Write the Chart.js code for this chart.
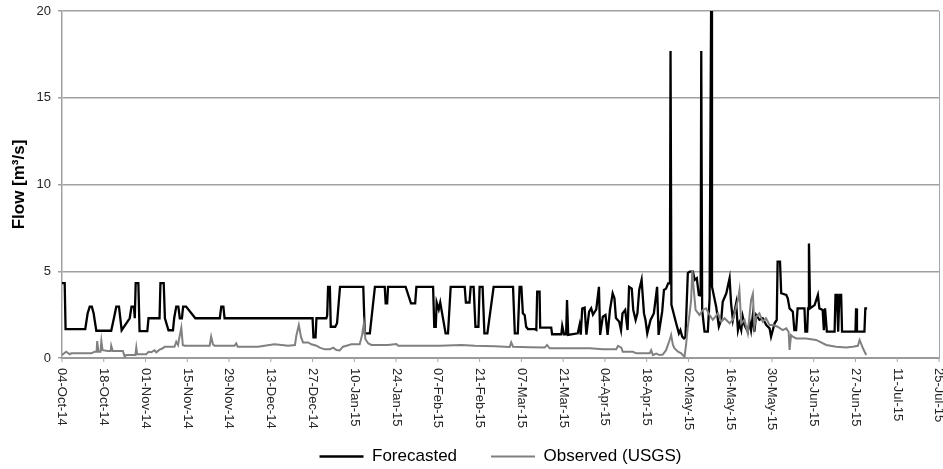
<!DOCTYPE html>
<html lang="en">
<head>
<meta charset="utf-8">
<title>Forecasted vs observed flow</title>
<script src="https://cdn.jsdelivr.net/npm/chart.js"></script>
<style>
  html, body { margin: 0; padding: 0; background: #fff; }
</style>
</head>
<body>
<canvas id="chart" width="943" height="469"></canvas>

<script>
  // x values are days after 04-Oct-14, y values are flow in m3/s
  const tickLabels = ['04-Oct-14', '18-Oct-14', '01-Nov-14', '15-Nov-14', '29-Nov-14', '13-Dec-14',
    '27-Dec-14', '10-Jan-15', '24-Jan-15', '07-Feb-15', '21-Feb-15', '07-Mar-15', '21-Mar-15',
    '04-Apr-15', '18-Apr-15', '02-May-15', '16-May-15', '30-May-15', '13-Jun-15', '27-Jun-15',
    '11-Jul-15', '25-Jul-15'];

  const forecasted = [
    [0, 4.32], [0.9, 4.32], [1.2, 1.67], [7.8, 1.67], [8.6, 2.58], [9.3, 2.96], [10.0, 2.96], [10.6, 2.58],
    [11.5, 1.57], [16.5, 1.57], [17.4, 2.29], [18.2, 2.96], [19.1, 2.96], [20.0, 1.6], [22.7, 2.29],
    [23.3, 2.96], [24.1, 2.96], [24.4, 2.29], [24.7, 4.32], [25.6, 4.32], [26.0, 1.55], [28.6, 1.55],
    [29.0, 2.29], [32.7, 2.29], [33.0, 4.32], [34.1, 4.32], [34.5, 2.29], [35.7, 1.6], [37.2, 1.6],
    [37.6, 2.29], [38.3, 2.96], [39.0, 2.96], [39.5, 2.29], [40.2, 2.29], [40.6, 2.96], [41.6, 2.96],
    [44.7, 2.29], [52.9, 2.29], [53.4, 2.96], [54.1, 2.96], [54.5, 2.29], [84.0, 2.29], [84.3, 1.19],
    [85.0, 1.19], [85.3, 2.29], [88.6, 2.29], [88.9, 2.45], [89.2, 4.1], [89.8, 4.1], [90.1, 1.8],
    [91.6, 1.8], [92.2, 2.0], [93.2, 4.1], [101.0, 4.1], [101.5, 1.42], [103.2, 1.42], [104.9, 4.1],
    [108.2, 4.1], [108.5, 3.15], [109.0, 3.15], [109.3, 4.1], [115.2, 4.1], [117.0, 3.15], [118.4, 3.15],
    [118.8, 4.1], [124.4, 4.1], [124.8, 1.8], [125.3, 1.8], [125.6, 3.2], [126.3, 2.8], [126.8, 3.2],
    [127.4, 2.6], [128.6, 1.42], [129.4, 1.42], [130.3, 4.1], [135.0, 4.1], [135.4, 3.2], [136.6, 3.2],
    [137.0, 4.1], [138.0, 4.1], [138.6, 1.8], [139.6, 1.8], [140.0, 4.1], [141.0, 4.1], [141.6, 1.42],
    [142.6, 1.42], [144.7, 4.1], [151.2, 4.1], [151.8, 1.42], [152.8, 1.42], [153.4, 4.1], [154.0, 4.1],
    [154.5, 2.57], [155.1, 2.48], [155.6, 1.8], [156.2, 1.67], [158.4, 1.67], [159.0, 1.62], [159.3, 3.82],
    [160.1, 3.82], [160.3, 1.75], [164.0, 1.75], [164.3, 1.37], [167.4, 1.37], [167.7, 1.85], [168.3, 1.37],
    [169.0, 1.37], [169.3, 3.34], [169.7, 1.33], [172.9, 1.42], [173.5, 1.9], [173.9, 1.35], [174.4, 2.85],
    [175.2, 2.9], [175.8, 1.35], [176.7, 2.67], [177.4, 2.86], [178.0, 2.5], [179.1, 2.8], [180.0, 4.1],
    [180.4, 1.33], [181.3, 2.38], [182.2, 2.48], [182.9, 1.33], [183.7, 2.77], [184.6, 3.73], [185.2, 3.44],
    [185.7, 2.3], [186.8, 2.09], [187.4, 1.61], [187.9, 2.57], [188.8, 2.77], [189.6, 1.61], [190.1, 4.1],
    [191.0, 4.0], [191.5, 2.77], [192.3, 2.19], [192.9, 2.57], [193.5, 3.92], [194.3, 4.5], [195.1, 2.57],
    [195.6, 2.19], [196.2, 1.42], [197.3, 2.19], [198.4, 2.57], [199.5, 4.1], [200.0, 1.33], [201.2, 2.67],
    [201.8, 3.92], [202.5, 4.0], [203.2, 4.3], [203.8, 4.3], [204.0, 17.7], [204.3, 3.06], [205.6, 2.19],
    [206.2, 1.8], [206.8, 1.42], [207.3, 1.61], [207.9, 1.23], [208.5, 1.13], [209.0, 1.2], [209.8, 4.9],
    [210.4, 4.98], [211.5, 4.98], [212.1, 4.5], [212.8, 4.6], [213.5, 3.63], [214.1, 3.6], [214.3, 17.7],
    [214.6, 2.77], [215.4, 1.52], [216.5, 1.52], [217.1, 3.44], [217.6, 20], [217.9, 4.11], [219.3, 2.96],
    [220.2, 1.81], [221.0, 2.2], [221.5, 3.24], [222.7, 3.73], [223.8, 4.6], [224.3, 3.15], [224.9, 2.2],
    [226.0, 3.15], [226.6, 1.61], [227.1, 2.0], [227.7, 1.61], [228.2, 2.38], [228.8, 1.9], [229.9, 1.52],
    [230.5, 2.09], [231.0, 1.61], [231.6, 2.48], [232.1, 1.52], [232.7, 2.48], [233.8, 2.2], [234.9, 2.29],
    [236.1, 1.9], [237.2, 1.71], [237.7, 1.23], [238.9, 2.0], [239.6, 2.2], [239.9, 5.55], [240.7, 5.55],
    [241.1, 3.73], [242.8, 3.63], [243.3, 3.44], [243.9, 2.86], [245.0, 2.67], [245.5, 1.61], [246.1, 1.61],
    [246.6, 2.86], [248.9, 2.86], [249.2, 1.52], [249.8, 1.52], [250.1, 2.86], [250.4, 6.6], [250.8, 2.86],
    [252.3, 3.05], [253.4, 3.63], [253.9, 2.86], [255.0, 2.77], [255.4, 1.61], [255.8, 2.86], [256.4, 1.52],
    [259.0, 1.52], [259.3, 3.63], [259.8, 3.63], [260.2, 1.52], [260.6, 3.63], [261.2, 3.63], [261.5, 1.52],
    [266.0, 1.52], [266.2, 2.86], [266.5, 1.52], [269.0, 1.52], [269.3, 2.86], [269.9, 2.86]
  ];

  const observed = [
    [0, 0.17], [0.3, 0.17], [1.4, 0.36], [2.6, 0.21], [3.1, 0.27], [9.8, 0.27], [10.9, 0.36], [11.6, 0.36],
    [11.8, 0.98], [12.2, 0.36], [12.9, 0.36], [13.2, 0.98], [13.6, 0.45], [15.4, 0.4], [16.3, 0.4],
    [16.5, 0.71], [17.0, 0.4], [20.4, 0.4], [21.0, 0.08], [21.5, 0.17], [24.6, 0.17], [24.9, 0.6],
    [25.2, 0.21], [28.2, 0.21], [29.0, 0.36], [29.9, 0.33], [31.0, 0.44], [31.6, 0.33], [32.7, 0.48],
    [33.8, 0.56], [34.4, 0.65], [37.7, 0.65], [38.3, 0.94], [38.9, 0.75], [39.4, 1.23], [40.0, 1.75],
    [40.5, 0.75], [41.1, 0.71], [49.5, 0.71], [50.0, 1.23], [50.6, 0.79], [51.1, 0.71], [57.8, 0.71],
    [58.4, 0.84], [58.9, 0.65], [65.7, 0.65], [67.9, 0.71], [71.2, 0.79], [73.6, 0.75], [75.8, 0.71],
    [78.1, 0.75], [78.6, 1.33], [79.4, 1.9], [80.1, 1.23], [80.8, 0.9], [82.5, 0.9], [83.6, 0.79],
    [85.3, 0.71], [86.4, 0.6], [88.1, 0.5], [89.8, 0.5], [90.9, 0.6], [92.0, 0.46], [93.1, 0.43],
    [94.2, 0.65], [95.4, 0.71], [97.0, 0.79], [99.8, 0.79], [100.6, 1.33], [101.2, 2.0], [101.7, 1.1],
    [102.6, 0.85], [103.7, 0.75], [109.3, 0.75], [112.1, 0.8], [112.7, 0.71], [126.6, 0.71], [133.9, 0.75],
    [138.4, 0.71], [145.0, 0.68], [150.1, 0.64], [150.6, 0.9], [151.2, 0.65], [156.8, 0.62], [161.8, 0.6],
    [162.6, 0.75], [163.5, 0.56], [176.9, 0.56], [181.3, 0.5], [185.8, 0.5], [186.4, 0.7], [187.5, 0.6],
    [188.0, 0.36], [191.4, 0.36], [192.5, 0.27], [197.0, 0.27], [197.5, 0.45], [198.1, 0.17], [199.2, 0.25],
    [200.3, 0.17], [201.4, 0.2], [202.5, 0.45], [203.7, 1.04], [204.2, 1.33], [204.8, 0.75], [205.3, 0.56],
    [206.5, 0.36], [207.6, 0.27], [208.1, 0.17], [208.7, 0.08], [209.2, 0.75], [209.8, 1.8], [210.4, 2.57],
    [210.9, 3.34], [211.3, 5.07], [211.6, 4.3], [212.4, 2.77], [213.7, 2.48], [214.8, 2.77], [215.9, 2.86],
    [217.1, 2.48], [218.2, 2.2], [219.9, 2.58], [221.0, 2.09], [222.1, 2.29], [223.8, 2.0], [224.9, 2.2],
    [226.6, 3.34], [227.1, 3.9], [227.7, 2.0], [228.8, 2.2], [229.9, 1.42], [231.0, 3.34], [231.6, 3.7],
    [232.1, 1.81], [232.7, 2.38], [233.8, 2.58], [234.9, 2.09], [236.0, 2.29], [237.2, 1.9], [238.3, 1.9],
    [239.9, 1.8], [241.6, 1.61], [242.8, 1.71], [243.6, 1.5], [243.9, 0.46], [244.4, 1.32], [245.0, 1.23],
    [246.1, 1.13], [249.4, 1.13], [252.8, 1.04], [256.2, 0.75], [259.5, 0.65], [262.9, 0.61], [265.1, 0.65],
    [266.8, 0.7], [267.4, 1.04], [268.5, 0.56], [269.6, 0.17]
  ];

  const FONT = '"Liberation Sans", Arial, sans-serif';

  // x tick labels read top to bottom (rotated clockwise), so draw them here
  const dateTicks = {
    id: 'dateTicks',
    afterDraw(chart) {
      const ctx = chart.ctx;
      const xs = chart.scales.x;
      const area = chart.chartArea;
      ctx.save();
      ctx.strokeStyle = '#a6a6a6';
      ctx.lineWidth = 1;
      ctx.beginPath();
      ctx.moveTo(area.right + 0.5, area.top);
      ctx.lineTo(area.right + 0.5, area.bottom);
      ctx.stroke();
      ctx.font = '13px ' + FONT;
      ctx.fillStyle = '#262626';
      ctx.textAlign = 'left';
      ctx.textBaseline = 'middle';
      xs.ticks.forEach((t, i) => {
        const x = xs.getPixelForValue(t.value);
        ctx.beginPath();
        ctx.moveTo(x, area.bottom);
        ctx.lineTo(x, area.bottom + 4);
        ctx.stroke();
        ctx.save();
        ctx.translate(x, area.bottom + 10);
        ctx.rotate(Math.PI / 2);
        ctx.fillText(tickLabels[i] || '', 0, 0);
        ctx.restore();
      });
      ctx.restore();
    }
  };

  new Chart(document.getElementById('chart'), {
    type: 'line',
    data: {
      datasets: [
        {
          label: 'Forecasted',
          data: forecasted.map(p => ({ x: p[0], y: p[1] })),
          borderColor: '#000',
          backgroundColor: '#000',
          borderWidth: 2.3,
          pointRadius: 0,
          tension: 0,
          order: 2
        },
        {
          label: 'Observed (USGS)',
          data: observed.map(p => ({ x: p[0], y: p[1] })),
          borderColor: '#808080',
          backgroundColor: '#808080',
          borderWidth: 2,
          pointRadius: 0,
          tension: 0,
          order: 1
        }
      ]
    },
    options: {
      responsive: false,
      animation: false,
      layout: { padding: { top: 11, right: 4, left: 0, bottom: -6 } },
      scales: {
        x: {
          type: 'linear',
          min: 0,
          max: 294,
          ticks: { stepSize: 14, display: false },
          grid: { display: false },
          border: { color: '#9a9a9a', width: 2 },
          afterFit(s) { s.height = 56; }
        },
        y: {
          min: 0,
          max: 20,
          ticks: { stepSize: 5, padding: 7, color: '#262626', font: { family: FONT, size: 13 } },
          grid: { color: '#a0a0a0', lineWidth: 1.5, tickLength: 4 },
          border: { color: '#a0a0a0', width: 1.5 },
          title: {
            display: true,
            text: 'Flow [m³/s]',
            color: '#000',
            font: { family: FONT, size: 17, weight: 'bold' },
            padding: { top: 9, bottom: 0 }
          },
          afterFit(s) {
            s.width = 62;
            s.paddingTop = 0;
            s.paddingBottom = 0;
          }
        }
      },
      plugins: {
        tooltip: { enabled: false },
        legend: {
          position: 'bottom',
          fullSize: false,
          labels: {
            usePointStyle: true,
            pointStyle: 'line',
            pointStyleWidth: 44,
            padding: 34,
            color: '#000',
            font: { family: FONT, size: 17 },
            sort: (a, b) => a.datasetIndex - b.datasetIndex
          }
        }
      }
    },
    plugins: [dateTicks]
  });
</script>
</body>
</html>
